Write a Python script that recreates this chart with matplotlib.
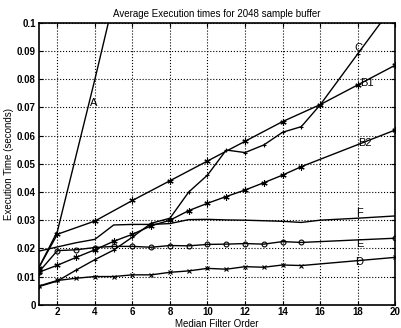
import numpy as np
import matplotlib.pyplot as plt

# Median filter order (x) and average execution time in seconds (y) per method
order_A = [1, 2, 3, 4, 5]
time_A = [0.013, 0.026, 0.053, 0.080, 0.108]

order_B1 = [1, 2, 4, 6, 8, 10, 12, 14, 16, 18, 20]
time_B1 = [0.013, 0.025, 0.0297, 0.037, 0.044, 0.051, 0.058, 0.065, 0.071, 0.078, 0.085]

order_B2 = [1, 2, 3, 4, 5, 6, 7, 8, 9, 10, 11, 12, 13, 14, 15, 20]
time_B2 = [0.0115, 0.014, 0.0168, 0.0195, 0.0225, 0.025, 0.028, 0.030, 0.0334, 0.036,
           0.0384, 0.0407, 0.0433, 0.046, 0.049, 0.062]

order_C = [1, 2, 3, 4, 5, 6, 7, 8, 9, 10, 11, 12, 13, 14, 15, 16, 18, 20]
time_C = [0.0064, 0.0084, 0.0123, 0.016, 0.0194, 0.024, 0.0289, 0.0307, 0.040, 0.046,
          0.0549, 0.054, 0.0567, 0.0612, 0.0632, 0.0709, 0.089, 0.107]

order_D = [1, 2, 3, 4, 5, 6, 7, 8, 9, 10, 11, 12, 13, 14, 15, 20]
time_D = [0.0066, 0.0086, 0.0094, 0.010, 0.010, 0.0106, 0.0106, 0.0115, 0.012, 0.0129,
          0.0126, 0.0135, 0.0133, 0.0141, 0.0139, 0.0168]

order_E = [1, 2, 3, 4, 5, 6, 7, 8, 9, 10, 11, 12, 13, 14, 15, 20]
time_E = [0.0115, 0.0192, 0.0195, 0.0203, 0.0207, 0.0207, 0.0204, 0.021, 0.0209, 0.0214,
          0.0215, 0.0217, 0.0215, 0.0224, 0.0221, 0.0236]

order_F = [1, 2, 3, 4, 5, 6, 7, 8, 9, 10, 11, 12, 13, 14, 15, 16, 18, 20]
time_F = [0.019, 0.0205, 0.022, 0.0232, 0.0283, 0.0285, 0.0285, 0.0288, 0.0302, 0.0303,
          0.0301, 0.030, 0.0298, 0.0296, 0.0292, 0.030, 0.0307, 0.0315]

# label text and where it sits on the chart (data coords)
labels = ["A", "C", "B1", "B2", "F", "E", "D"]
label_x = [3.95, 18.05, 18.5, 18.4, 18.1, 18.1, 18.1]
label_y = [0.0715, 0.0912, 0.0786, 0.0573, 0.0327, 0.0216, 0.0150]

xticks = [2, 4, 6, 8, 10, 12, 14, 16, 18, 20]
yticks = [0, 0.01, 0.02, 0.03, 0.04, 0.05, 0.06, 0.07, 0.08, 0.09, 0.1]
ytick_labels = ["0", "0.01", "0.02", "0.03", "0.04", "0.05", "0.06", "0.07", "0.08", "0.09", "0.1"]

plt.rcParams['font.family'] = ['Liberation Sans', 'DejaVu Sans']
plt.rcParams['font.weight'] = 'bold'

fig = plt.figure(figsize=(4.02, 3.28), dpi=100)
ax = fig.add_axes([0.096, 0.071, 0.887, 0.859])

lw = 1.0
ms = 3.5
ax.plot(order_A, time_A, color='black', lw=lw)
ax.plot(order_B1, time_B1, color='black', lw=lw, marker=(6, 2, 0), ms=ms + 1, mew=0.8)
ax.plot(order_B2, time_B2, color='black', lw=lw, marker=(6, 2, 0), ms=ms + 1, mew=0.8)
ax.plot(order_C, time_C, color='black', lw=lw, marker='+', ms=ms, mew=0.8)
ax.plot(order_D, time_D, color='black', lw=lw, marker='x', ms=ms, mew=0.8)
ax.plot(order_E, time_E, color='black', lw=lw, marker='o', ms=ms, mfc='none', mew=0.8)
ax.plot(order_F, time_F, color='black', lw=lw)

for txt, lx, ly in zip(labels, label_x, label_y):
    ax.text(lx, ly, txt, fontsize=8, fontweight='normal', ha='center', va='center', color='black')

ax.set_xlim(1, 20)
ax.set_ylim(0, 0.1)
ax.set_xticks(xticks)
ax.set_yticks(yticks)
ax.set_yticklabels(ytick_labels)
ax.tick_params(direction='in', top=True, right=True, length=3, labelsize=7, pad=2)
ax.grid(True, linestyle=':', color='black', linewidth=0.8)
for s in ax.spines.values():
    s.set_linewidth(1.2)

ax.set_title("Average Execution times for 2048 sample buffer", fontsize=7, pad=4)
ax.set_xlabel("Median Filter Order", fontsize=7, labelpad=1)
ax.set_ylabel("Execution Time (seconds)", fontsize=7, labelpad=2)

fig.savefig("out.png", dpi=100)
